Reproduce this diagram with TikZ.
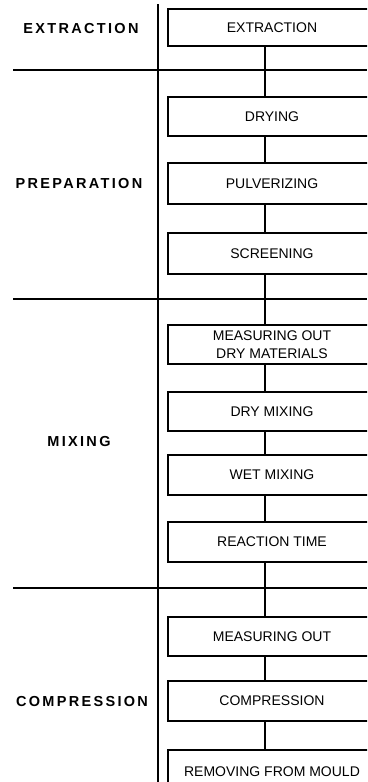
\documentclass[tikz,border=0pt]{standalone}
\usepackage{fontspec}
\setmainfont{Liberation Sans}
\newfontfamily\lblfont[LetterSpace=16]{Liberation Sans Bold}
\begin{document}
\begin{tikzpicture}[x=1pt,y=-1pt,
  stepbox/.style={draw,line width=1.5pt,rectangle,minimum width=208pt,inner sep=0pt,
    font=\fontsize{14}{18}\selectfont,align=center},
  phase/.style={font=\lblfont\fontsize{14.5}{16}\selectfont,inner sep=0pt},
  divider/.style={line width=1.8pt},
  link/.style={line width=1.8pt}]
\useasboundingbox (0,0) rectangle (367,782);
\clip (0,0) rectangle (367,782);
\fill[white] (0,0) rectangle (367,782);
% dividers
\coordinate (vtop) at (158,4);
\coordinate (vbot) at (158,782);
\draw[divider] (vtop) -- (vbot);
\coordinate (h1l) at (13,70);  \coordinate (h1r) at (367,70);
\coordinate (h2l) at (13,299); \coordinate (h2r) at (367,299);
\coordinate (h3l) at (13,588); \coordinate (h3r) at (367,588);
\draw[divider] (h1l) -- (h1r);
\draw[divider] (h2l) -- (h2r);
\draw[divider] (h3l) -- (h3r);
% phase labels
\node[phase] (p1) at (81,28.5) {EXTRACTION};
\node[phase] (p2) at (79,184) {PREPARATION};
\node[phase] (p3) at (79,441.5) {MIXING};
\node[phase] (p4) at (82,701) {COMPRESSION};
% step boxes
\coordinate (cx) at (265,0);
\node[stepbox,minimum height=37pt] (b1) at (272,27.5) {EXTRACTION};
\node[stepbox,minimum height=39pt] (b2) at (272,116.5) {DRYING};
\node[stepbox,minimum height=41pt] (b3) at (272,183.5) {PULVERIZING};
\node[stepbox,minimum height=41pt] (b4) at (272,253.5) {SCREENING};
\node[stepbox,minimum height=39pt] (b5) at (272,344.5) {MEASURING OUT\\DRY MATERIALS};
\node[stepbox,minimum height=39pt] (b6) at (272,411.5) {DRY MIXING};
\node[stepbox,minimum height=40pt] (b7) at (272,475) {WET MIXING};
\node[stepbox,minimum height=40pt] (b8) at (272,542) {REACTION TIME};
\node[stepbox,minimum height=39pt] (b9) at (272,636.5) {MEASURING OUT};
\node[stepbox,minimum height=40pt] (b10) at (272,701) {COMPRESSION};
\node[stepbox,minimum height=44pt,text depth=0pt] (b11) at (272,772) {\raisebox{0pt}{REMOVING FROM MOULD}};
% connectors
\foreach \a/\b in {b1/b2,b2/b3,b3/b4,b4/b5,b5/b6,b6/b7,b7/b8,b8/b9,b9/b10,b10/b11}
  \draw[link] (\a.south -| cx) -- (\b.north -| cx);
\end{tikzpicture}
\end{document}
